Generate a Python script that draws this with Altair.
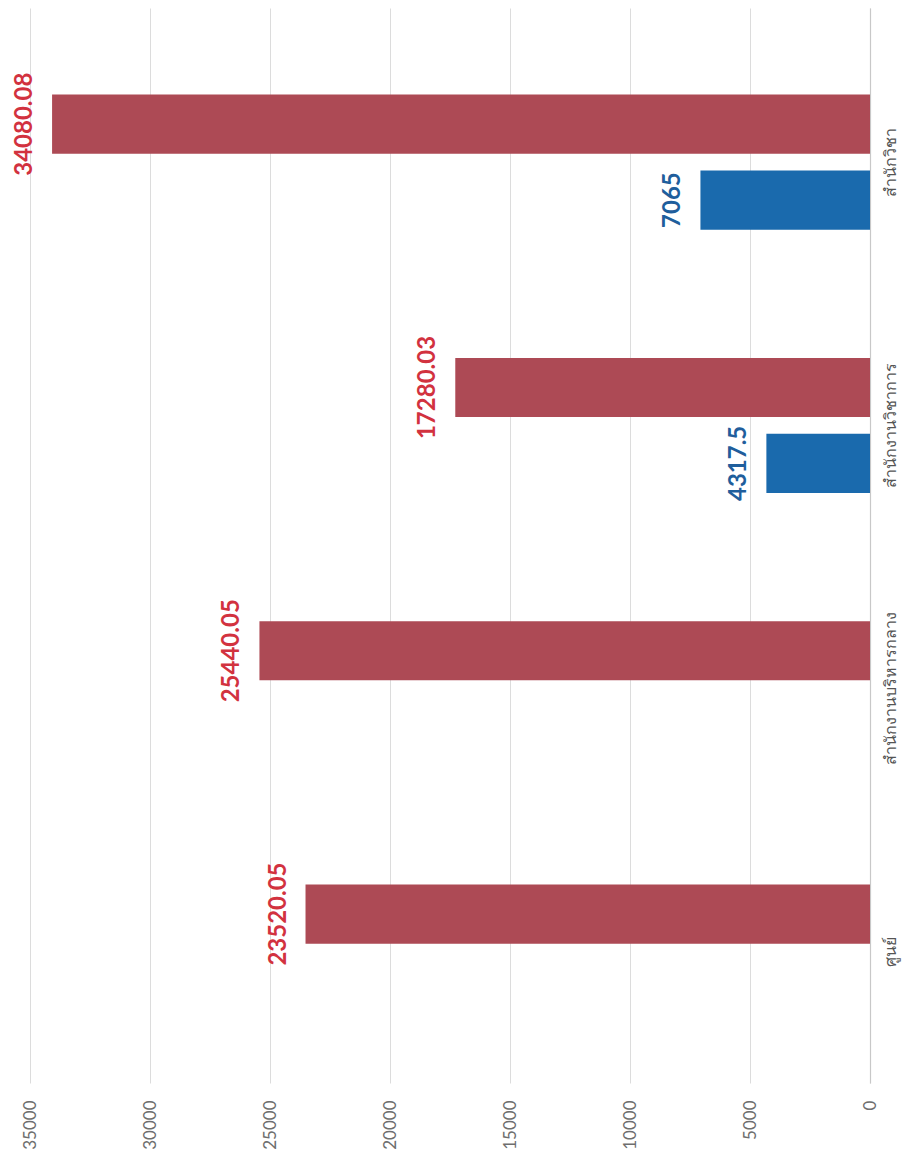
import altair as alt
import pandas as pd

categories = ["ศูนย์", "สำนักงานบริหารกลาง", "สำนักงานวิชาการ", "สำนักวิชา"]
series_blue = [None, None, 4317.5, 7065]
series_red = [23520.05, 25440.05, 17280.03, 34080.08]
x_ticks = [0, 5000, 10000, 15000, 20000, 25000, 30000, 35000]

rows = []
for c, b, r in zip(categories, series_blue, series_red):
    if b is not None:
        rows.append({"cat": c, "series": "ชุด 1", "value": b})
    if r is not None:
        rows.append({"cat": c, "series": "ชุด 2", "value": r})
df = pd.DataFrame(rows)

cat_order = list(reversed(categories))  # top to bottom
series_order = ["ชุด 2", "ชุด 1"]       # red above blue

y_enc = alt.Y("cat:N", sort=cat_order,
              scale=alt.Scale(domain=cat_order, paddingInner=0.487, paddingOuter=0.285, align=0.577),
              axis=alt.Axis(orient="right", title=None, ticks=False, domain=True,
                            domainColor="#c8c8c8", domainWidth=1.2,
                            labelAngle=270, labelAlign="center", labelBaseline="top",
                            labelPadding=12, labelFontSize=16, labelColor="#555555",
                            labelFont="Noto Sans", grid=False))
yoff_enc = alt.YOffset("series:N", sort=series_order,
                       scale=alt.Scale(domain=series_order, paddingInner=0.22, paddingOuter=0))
x_enc = alt.X("value:Q",
              scale=alt.Scale(domain=[0, 35000], reverse=True, nice=False),
              axis=alt.Axis(orient="bottom", title=None, values=x_ticks, ticks=False, domain=False,
                            format="d",
                            grid=True, gridColor="#dcdcdc", gridWidth=1,
                            labelAngle=270, labelPadding=17, labelFontSize=17,
                            labelColor="#6e6e6e", labelFont="Lato", labelFontWeight="normal"))

bars = alt.Chart(df).mark_bar().encode(
    y=y_enc, yOffset=yoff_enc, x=x_enc,
    color=alt.Color("series:N", scale=alt.Scale(domain=["ชุด 1", "ชุด 2"], range=["#1a6aad", "#ad4a55"]),
                    legend=None),
)

labels = alt.Chart(df).mark_text(angle=270, align="center", baseline="bottom", dy=-15,
                                 font="Lato", fontSize=24, fontWeight="bold").encode(
    y=y_enc, yOffset=yoff_enc, x=x_enc,
    text=alt.Text("value:Q", format=".10~g"),
    color=alt.Color("series:N", scale=alt.Scale(domain=["ชุด 1", "ชุด 2"], range=["#1f5e9c", "#d2323f"]),
                    legend=None),
)

chart = alt.layer(bars, labels).resolve_scale(color="independent").properties(
    width=840, height=1075,
    autosize=alt.AutoSizeParams(type="none"),
    padding={"left": 22, "top": 0, "right": 44, "bottom": 78},
).configure(background="white").configure_view(stroke=None)

chart.save("out.html", embed_options={"renderer": "svg", "actions": False})
